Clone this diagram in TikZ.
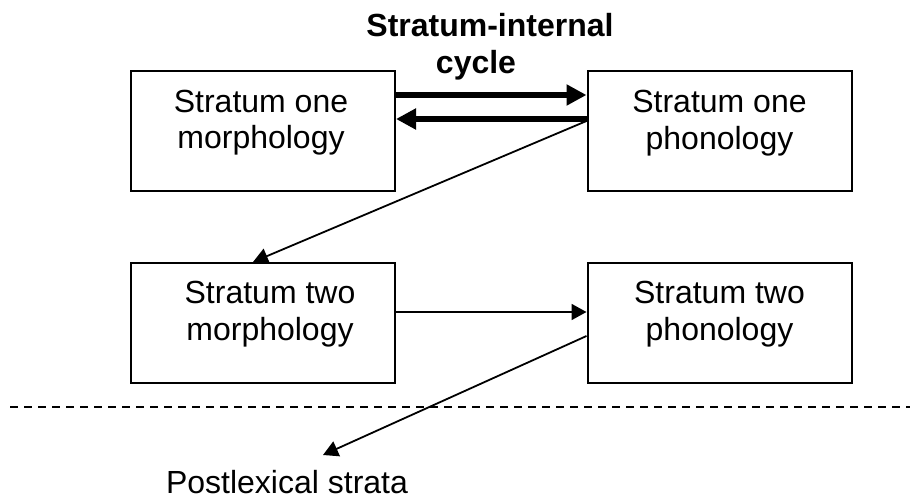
\documentclass[tikz,border=0pt]{standalone}
\usepackage{fontspec}
\setmainfont{Liberation Sans}
\usetikzlibrary{arrows.meta,calc}
\begin{document}
\begin{tikzpicture}[x=1pt,y=-1pt,
  box/.style={draw, line width=2pt, minimum width=264pt, minimum height=120pt, inner sep=0pt},
  txt/.style={font=\fontsize{32}{36.8}\selectfont, align=center, anchor=base, inner sep=0pt},
  cyclearrow/.style={line width=6pt, -{Triangle[length=20pt,width=20pt]}},
  flow/.style={line width=1.8pt, -{Triangle[length=15pt,width=16pt]}},
  divider/.style={line width=1.8pt, dash pattern=on 8pt off 6pt},
]
\useasboundingbox (0,0) rectangle (915,497);

% the four component boxes
\node[box] (m1) at (263,131) {};
\node[box] (p1) at (719.5,131.5) {};
\node[box] (m2) at (263,323) {};
\node[box] (p2) at (719.5,323) {};

% box labels (base anchor sits on the last line)
\node[txt] (m1t) at ($(m1.north)+(-2,79)$) {Stratum one\\morphology};
\node[txt] (p1t) at ($(p1.north)+(0,79)$) {Stratum one\\phonology};
\node[txt] (m2t) at ($(m2.north)+(7,78)$) {Stratum two\\morphology};
\node[txt] (p2t) at ($(p2.north)+(0,78)$) {Stratum two\\phonology};

% cycle heading
\node[txt, font=\fontsize{32}{37}\selectfont\bfseries] (cyc) at (490,74) {Stratum-internal\\cycle\hspace*{28pt}};

% stratum-internal cycle
\draw[cyclearrow] (m1.east |- 0,95) -- (p1.west |- 0,95);
\draw[cyclearrow] (p1.west |- 0,119) -- (m1.east |- 0,119);

% stratum one to stratum two
\draw[flow] (p1.west |- 0,121) -- (m2.north -| 253,0);
\draw[flow] (m2.east |- 0,312) -- (p2.west |- 0,312);

% lexical / postlexical divide
\coordinate (dl) at (10,407);
\coordinate (dr) at (910,407);
\draw[divider] (dl) -- (dr);

% output to postlexical strata
\node[txt] (post) at (287,493) {Postlexical strata};
\coordinate (postin) at (323,455);
\draw[flow] (p2.west |- 0,336) -- (postin);
\end{tikzpicture}
\end{document}
